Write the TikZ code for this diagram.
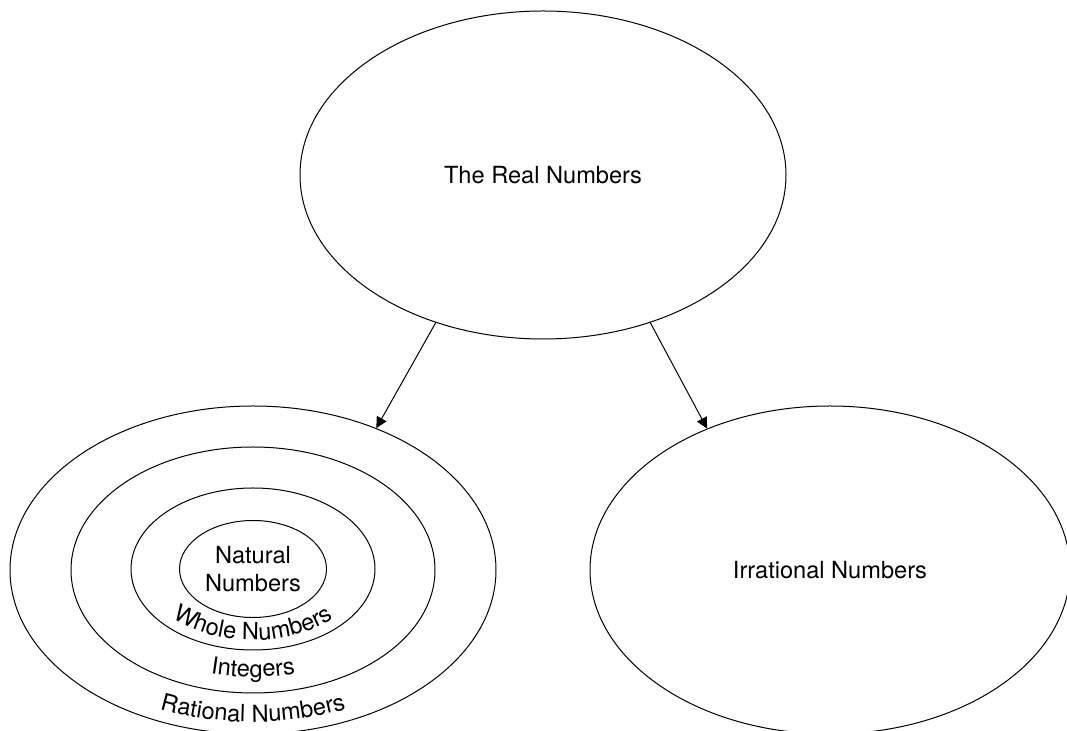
\documentclass[tikz,border=0pt]{standalone}
\usepackage{fontspec}
\setmainfont{TeX Gyre Heros}
\usepackage{tikz}
\usetikzlibrary{arrows.meta,shapes.geometric,decorations.text}
\newcommand{\setfont}{\fontsize{11.8}{14}\selectfont}
\tikzset{
  setoval/.style 2 args={ellipse, draw=black, line width=0.5pt, inner sep=0pt, align=center, font=\setfont, minimum width=#1, minimum height=#2},
  setarrow/.style={-{Triangle[length=5.5pt,width=5.5pt]}, line width=0.5pt, draw=black},
  % --- labels bent along the lower rims ---
  arclabel/.style={decorate, decoration={text along path, text align=center, text={|\setfont|#1}}},
}

\begin{document}
\begin{tikzpicture}[x=0.5pt,y=0.5pt]
  \useasboundingbox (0,0) rectangle (1067,-731);
  \clip (0,0) rectangle (1067,-731);

  \node[setoval={243pt}{164pt}] (real) at (543,-175) {The Real Numbers};

  \node[setoval={243pt}{164pt}] (rational) at (253,-570) {};
  \node[setoval={182pt}{123pt}] (integer)  at (253,-570) {};
  \node[setoval={122pt}{81pt}]  (whole)    at (253,-569) {};
  \node[setoval={73.5pt}{48.5pt}] (natural) at (253,-569) {Natural\\Numbers};

  \node[setoval={240pt}{164pt}] (irrational) at (830,-570) {Irrational Numbers};

  \path[arclabel={Whole Numbers}] (253,-569) ++(200:112 and 71) arc[start angle=200, end angle=340, x radius=112, y radius=71];
  \path[arclabel={Integers}] (253,-570) ++(230:170 and 107) arc[start angle=230, end angle=310, x radius=170, y radius=107];
  \path[arclabel={Rational Numbers}] (253,-570) ++(210:231 and 152) arc[start angle=210, end angle=330, x radius=231, y radius=152];

  \foreach \a/\b/\c in {234/rational/49, 306/irrational/131} { \draw[setarrow] (real.\a) -- (\b.\c); }
\end{tikzpicture}
\end{document}
